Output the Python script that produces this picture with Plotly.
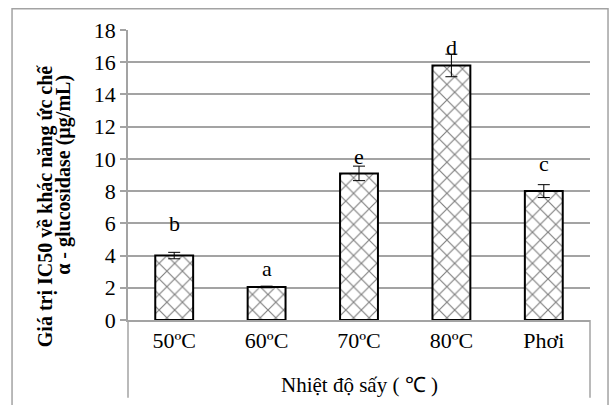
import plotly.graph_objects as go

# IC50 values (µg/mL) for alpha-glucosidase inhibition by drying temperature
categories = ["50ºC", "60ºC", "70ºC", "80ºC", "Phơi"]
ic50_values = [4.0, 2.05, 9.1, 15.8, 8.0]
ic50_errors = [0.2, 0.05, 0.45, 0.7, 0.4]
group_letters = ["b", "a", "e", "d", "c"]
letter_heights = [6.0, 3.2, 10.15, 16.9, 9.7]
y_ticks = list(range(0, 19, 2))

SERIF = "Liberation Serif, Times New Roman, serif"
GRAY = "#a3a3a3"

fig = go.Figure()
fig.add_trace(go.Bar(
    x=categories,
    y=ic50_values,
    marker=dict(
        color="white",
        line=dict(color="black", width=2),
        pattern=dict(shape="x", fgcolor="black", bgcolor="white",
                     size=11, solidity=0.2),
    ),
    error_y=dict(type="data", array=ic50_errors, visible=True,
                 color="black", thickness=1, width=6),
    showlegend=False,
))

annotations = []
for cat, lbl, h in zip(categories, group_letters, letter_heights):
    annotations.append(dict(x=cat, y=h, text=lbl, showarrow=False,
                            xref="x", yref="y",
                            font=dict(family=SERIF, size=22, color="black")))

# rotated two-line y axis title
annotations.append(dict(xref="paper", yref="paper", x=-0.178, y=0.395,
                        xanchor="center", yanchor="middle",
                        text="<b>Giá trị IC50 về khác năng ức chế</b>",
                        textangle=-90, showarrow=False,
                        font=dict(family=SERIF, size=20, color="black")))
annotations.append(dict(xref="paper", yref="paper", x=-0.141, y=0.5,
                        xanchor="center", yanchor="middle",
                        text="<b>α - glucosidase (µg/mL)</b>",
                        textangle=-90, showarrow=False,
                        font=dict(family=SERIF, size=20, color="black")))
# x axis title
annotations.append(dict(xref="paper", yref="paper", x=0.5, y=-0.225,
                        xanchor="center", yanchor="middle",
                        text="Nhiệt độ sấy ( ℃ )", showarrow=False,
                        font=dict(family=SERIF, size=21, color="black")))

shapes = [
    # outer chart frame
    dict(type="rect", xref="paper", yref="paper",
         x0=-0.251, x1=1.039, y0=-0.32, y1=1.073,
         line=dict(color=GRAY, width=1.5), fillcolor="rgba(0,0,0,0)", layer="below"),
    # category axis box edges
    dict(type="line", xref="paper", yref="paper", x0=0, x1=0, y0=0, y1=-0.268,
         line=dict(color=GRAY, width=1.5)),
    dict(type="line", xref="paper", yref="paper", x0=1, x1=1, y0=0, y1=-0.268,
         line=dict(color=GRAY, width=1.5)),
]

fig.update_layout(
    width=614, height=405,
    margin=dict(l=128, r=24, t=30, b=85),
    paper_bgcolor="white", plot_bgcolor="white",
    bargap=0.59,
    annotations=annotations,
    shapes=shapes,
    font=dict(family=SERIF, color="black"),
)
fig.update_xaxes(
    showline=True, linecolor=GRAY, linewidth=1.5,
    tickfont=dict(family=SERIF, size=22, color="black"),
    ticks="", showgrid=False,
)
fig.update_yaxes(
    range=[0, 18], tickvals=y_ticks,
    showgrid=True, gridcolor=GRAY, gridwidth=1.5,
    showline=True, linecolor=GRAY, linewidth=1.5,
    ticks="outside", ticklen=6, tickcolor=GRAY, tickwidth=1.5,
    tickfont=dict(family=SERIF, size=22, color="black"),
    zeroline=False,
)

fig.write_html("out.html")
